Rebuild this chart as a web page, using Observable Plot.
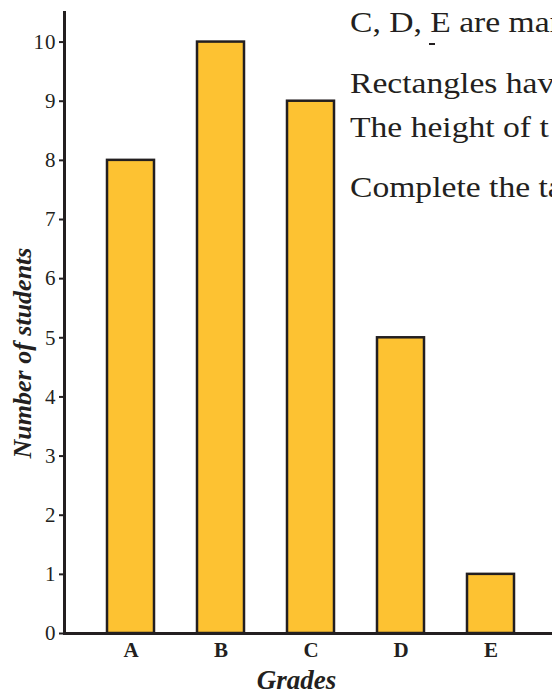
<!DOCTYPE html>
<html><head><meta charset="utf-8">
<script src="https://cdn.jsdelivr.net/npm/d3@7"></script>
<script src="https://cdn.jsdelivr.net/npm/@observablehq/plot@0.6"></script>
<style>
html,body{margin:0;padding:0;background:#fff;overflow:hidden;}
#wrap{position:relative;width:552px;height:690px;overflow:hidden;background:#fff;}
.note{position:absolute;left:350px;font-family:"Liberation Serif",serif;font-size:30px;line-height:30px;color:#231f20;white-space:nowrap;transform:scaleX(1.12);transform-origin:0 0;}
.dash{position:absolute;left:429px;top:43px;width:6px;height:2px;background:#231f20;}
[aria-label="grades-title"] text{letter-spacing:1.5px;}
[aria-label="y-axis tick label"] text{letter-spacing:1px;}
</style></head><body><div id="wrap"></div>
<script>
const grades = ["A", "B", "C", "D", "E"];
const students = [8, 10, 9, 5, 1];
const yTicks = [0, 1, 2, 3, 4, 5, 6, 7, 8, 9, 10];
const noteLines = ["C, D, E are mar", "Rectangles hav", "The height of t", "Complete the ta"];
const noteTops = [7, 68, 112, 172];

const data = grades.map((g, i) => ({grade: g, n: students[i]}));
const ink = "#231f20";

const chart = Plot.plot({
  width: 552, height: 690,
  marginLeft: 64, marginRight: 0, marginTop: 12, marginBottom: 57,
  style: {fontFamily: "Liberation Serif", color: ink, background: "#fff", overflow: "visible"},
  x: {domain: grades, paddingInner: 0.48, paddingOuter: 0.439, align: 0.535, label: null},
  y: {domain: [0, 10.5], label: null},
  marks: [
    Plot.barY(data, {x: "grade", y: "n", fill: "#fdc232", stroke: ink, strokeWidth: 2.5, inset: 0}),
    Plot.ruleY([0], {stroke: ink, strokeWidth: 3}),
    Plot.frame({anchor: "left", stroke: ink, strokeWidth: 3}),
    Plot.axisY({ticks: yTicks, tickSize: 5, tickPadding: 3, fontSize: 21, strokeWidth: 2, label: null, fill: ink, stroke: ink}),
    Plot.axisX({tickSize: 0, tickPadding: 9, fontSize: 21, fontWeight: "bold", label: null, fill: ink}),
    Plot.text(["Grades"], {text: d => d, frameAnchor: "bottom", textAnchor: "middle", dx: -12, dy: 55, lineAnchor: "bottom",
      fontSize: 27, fontWeight: "bold", fontStyle: "italic", fill: ink, ariaLabel: "grades-title"}),
    Plot.text(["Number of students"], {text: d => d, frameAnchor: "left", textAnchor: "middle", rotate: -90, dx: -34, dy: 30,
      lineAnchor: "bottom", fontSize: 26, fontWeight: "bold", fontStyle: "italic", fill: ink})
  ]
});

const wrap = document.getElementById("wrap");
wrap.appendChild(chart);
chart.style.position = "absolute";
chart.style.left = "0px";
chart.style.top = "0px";
noteLines.forEach((t, i) => {
  const d = document.createElement("div");
  d.className = "note";
  d.style.top = noteTops[i] + "px";
  d.textContent = t;
  wrap.appendChild(d);
});
const dash = document.createElement("div");
dash.className = "dash";
wrap.appendChild(dash);
</script>
</body></html>
